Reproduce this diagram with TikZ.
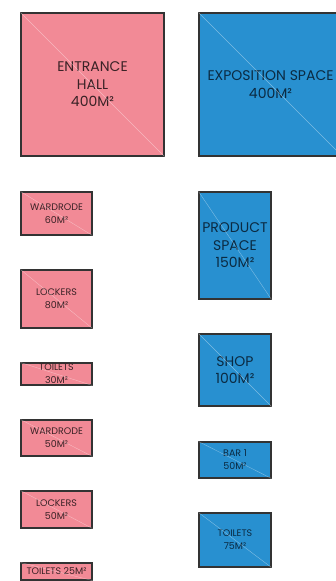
\documentclass[tikz,border=0pt]{standalone}
\usepackage{fontspec}
\setmainfont{Poppins}
\definecolor{roompink}{HTML}{F28A96}
\definecolor{roomblue}{HTML}{2890D0}
\definecolor{pinktext}{HTML}{3A2226}
\definecolor{bluetext}{HTML}{0B2A42}
\tikzset{
  room/.style={draw=black!80, line width=1.1pt, inner sep=0pt, align=center},
  pinkroom/.style={room, fill=roompink, text=pinktext},
  blueroom/.style={room, fill=roomblue, text=bluetext},
  bigtext/.style={font=\fontsize{14}{17.5}\selectfont},
  smalltext/.style={font=\fontsize{9.5}{13}\selectfont},
  diag/.style={draw=white, opacity=0.4, line width=0.4pt},
}
\newcommand{\roombox}[7]{% name, style, x1, y1, x2, y2, text
  \node[#2, minimum width={(#5-#3)*1pt}, minimum height={(#6-#4)*1pt}] (#1) at ({(#3+#5)/2},{(#4+#6)/2}) {#7};
  \draw[diag] (#1.north west) -- (#1.south east);
}
\begin{document}
\begin{tikzpicture}[x=1pt,y=-1pt]
\useasboundingbox (0,0) rectangle (336,581);
\clip (0,0) rectangle (336,581);
% left column (pink)
\roombox{entrance}{pinkroom,bigtext}{21}{13}{164}{156}{ENTRANCE\\HALL\\400M²}
\roombox{wardA}{pinkroom,smalltext}{21}{192}{92}{235}{WARDRODE\\60M²}
\roombox{lockA}{pinkroom,smalltext}{21}{270}{92}{328}{LOCKERS\\80M²}
\roombox{toilA}{pinkroom,smalltext}{21}{363}{92}{385}{TOILETS\\30M²}
\roombox{wardB}{pinkroom,smalltext}{21}{420}{92}{456}{WARDRODE\\50M²}
\roombox{lockB}{pinkroom,smalltext}{21}{491}{92}{528}{LOCKERS\\50M²}
\roombox{toilB}{pinkroom,smalltext}{21}{563}{92}{580}{TOILETS 25M²}
% right column (blue)
\roombox{expo}{blueroom,bigtext}{199}{13}{342}{156}{EXPOSITION SPACE\\400M²}
\roombox{prod}{blueroom,bigtext}{199}{192}{271}{299}{PRODUCT\\SPACE\\150M²}
\roombox{shop}{blueroom,bigtext}{199}{334}{271}{406}{SHOP\\100M²}
\roombox{bar}{blueroom,smalltext}{199}{442}{271}{478}{BAR 1\\50M²}
\roombox{toilC}{blueroom,smalltext}{199}{513}{271}{567}{TOILETS\\75M²}
\end{tikzpicture}
\end{document}
